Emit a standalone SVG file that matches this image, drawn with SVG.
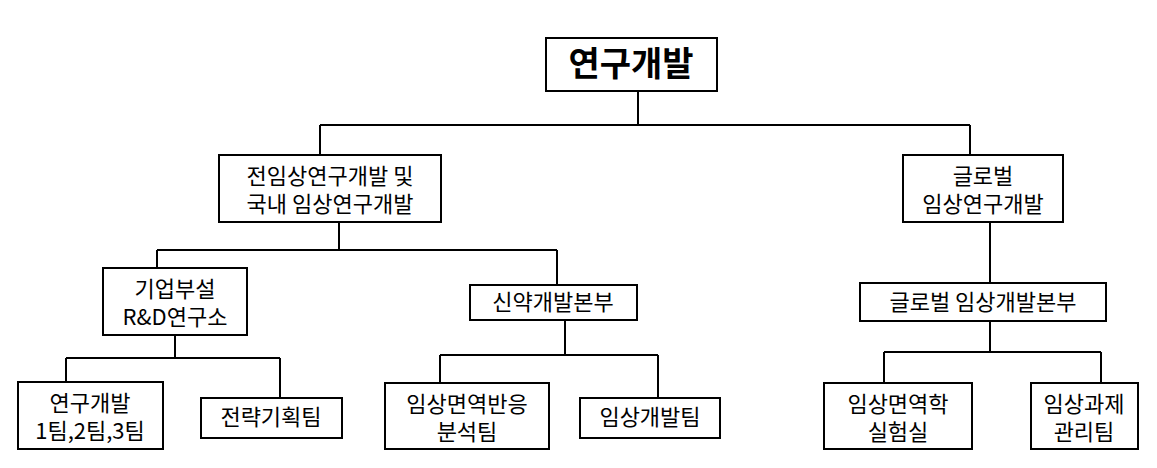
<svg xmlns="http://www.w3.org/2000/svg" width="1157" height="468" viewBox="0 0 1157 468">
<style>
rect{fill:#fff;stroke:#000;stroke-width:2}
text{font-family:"Noto Sans CJK KR","Noto Sans",sans-serif;font-size:22px;text-anchor:middle;fill:#000}
.c line{stroke:#000;stroke-width:2}
</style>
<rect x="0" y="0" width="1157" height="468" style="stroke:none"/>
<g class="c">
<line x1="638" y1="91" x2="638" y2="125"/><line x1="320" y1="125" x2="970" y2="125"/>
<line x1="320" y1="125" x2="320" y2="155"/><line x1="970" y1="125" x2="970" y2="155"/>
<line x1="339" y1="222" x2="339" y2="250"/><line x1="157" y1="250" x2="557" y2="250"/>
<line x1="157" y1="250" x2="157" y2="268"/><line x1="557" y1="250" x2="557" y2="285"/>
<line x1="175" y1="335" x2="175" y2="358"/><line x1="66" y1="358" x2="280" y2="358"/>
<line x1="66" y1="358" x2="66" y2="382"/><line x1="280" y1="358" x2="280" y2="398"/>
<line x1="565" y1="320" x2="565" y2="355"/><line x1="440" y1="355" x2="658" y2="355"/>
<line x1="440" y1="355" x2="440" y2="383"/><line x1="658" y1="355" x2="658" y2="398"/>
<line x1="990" y1="222" x2="990" y2="283"/>
<line x1="990" y1="321" x2="990" y2="352"/><line x1="884" y1="352" x2="1101" y2="352"/>
<line x1="884" y1="352" x2="884" y2="383"/><line x1="1101" y1="352" x2="1101" y2="383"/>
</g>
<g id="root"><rect x="546" y="38" width="171" height="53"/><text x="631" y="76" style="font-size:34px;font-weight:bold">연구개발</text></g>
<g id="n1"><rect x="219" y="155" width="222" height="67"/><text x="330" y="184">전임상연구개발 및</text><text x="330" y="212">국내 임상연구개발</text></g>
<g id="n2"><rect x="903" y="155" width="160" height="67"/><text x="983" y="184">글로벌</text><text x="983" y="212">임상연구개발</text></g>
<g id="n3"><rect x="103" y="268" width="144" height="67"/><text x="175" y="297">기업부설</text><text x="175" y="325">R&amp;D연구소</text></g>
<g id="n4"><rect x="470" y="285" width="167" height="35"/><text x="553" y="310">신약개발본부</text></g>
<g id="n5"><rect x="860" y="283" width="246" height="38"/><text x="983" y="310">글로벌 임상개발본부</text></g>
<g id="n6"><rect x="18" y="382" width="145" height="67"/><text x="90" y="411">연구개발</text><text x="90" y="439">1팀,2팀,3팀</text></g>
<g id="n7"><rect x="201" y="398" width="141" height="40"/><text x="271" y="425">전략기획팀</text></g>
<g id="n8"><rect x="385" y="383" width="164" height="66"/><text x="467" y="412">임상면역반응</text><text x="467" y="440">분석팀</text></g>
<g id="n9"><rect x="580" y="398" width="140" height="40"/><text x="650" y="425">임상개발팀</text></g>
<g id="n10"><rect x="824" y="383" width="148" height="66"/><text x="898" y="412">임상면역학</text><text x="898" y="440">실험실</text></g>
<g id="n11"><rect x="1031" y="383" width="107" height="66"/><text x="1084" y="412">임상과제</text><text x="1084" y="440">관리팀</text></g>
</svg>
